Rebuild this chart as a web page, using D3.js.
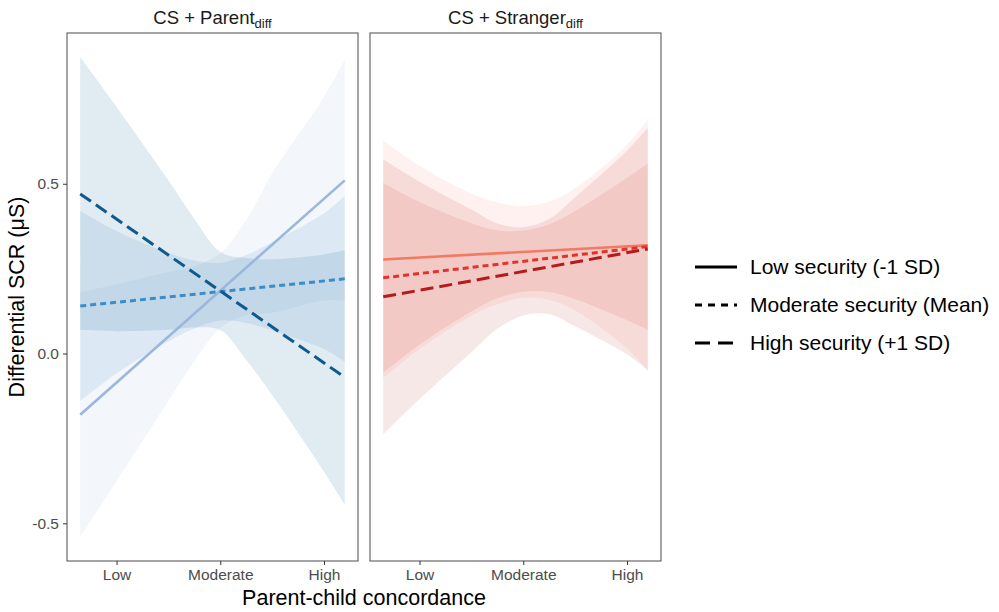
<!DOCTYPE html>
<html>
<head>
<meta charset="utf-8">
<script src="https://cdn.jsdelivr.net/npm/d3@7"></script>
<style>
  body { margin: 0; background: #fff; }
  svg { font-family: 'Liberation Sans', Arial, sans-serif; }
</style>
</head>
<body>
<script>
// x positions (concordance, SD units) where band edges were read
const xGrid = [-1.35, -1.0, -0.5, -0.25, 0, 0.25, 0.5, 1.0, 1.2];
const lineX = [-1.35, 1.2];

const xTickValues = [-1, 0, 1];
const xTickLabels = ['Low', 'Moderate', 'High'];
const yTickValues = [-0.5, 0, 0.5];
const yTickLabels = ['-0.5', '0.0', '0.5'];

const legendLabels = ['Low security (-1 SD)', 'Moderate security (Mean)', 'High security (+1 SD)'];

// CS+Parent panel
const parentLowFit = [-0.18, 0.51];
const parentLowLo = [-0.54, -0.376, -0.14, -0.023, 0.075, 0.113, 0.12, 0.156, 0.155];
const parentLowHi = [0.18, 0.204, 0.24, 0.257, 0.295, 0.393, 0.53, 0.756, 0.865];
const parentModFit = [0.14, 0.22];
const parentModLo = [-0.14, -0.059, 0.036, 0.074, 0.097, 0.09, 0.068, 0.013, -0.025];
const parentModHi = [0.42, 0.361, 0.296, 0.274, 0.267, 0.29, 0.328, 0.413, 0.465];
const parentHighFit = [0.47, -0.07];
const parentHighLo = [0.07, 0.066, 0.07, 0.077, 0.069, -0.019, -0.122, -0.348, -0.445];
const parentHighHi = [0.873, 0.726, 0.51, 0.397, 0.299, 0.281, 0.278, 0.292, 0.305];

// CS+Stranger panel
const strangerLowFit = [0.277, 0.319];
const strangerLowLo = [-0.073, 0.013, 0.111, 0.145, 0.164, 0.158, 0.127, 0.015, -0.051];
const strangerLowHi = [0.627, 0.553, 0.471, 0.445, 0.434, 0.448, 0.487, 0.615, 0.689];
const strangerModFit = [0.223, 0.315];
const strangerModLo = [-0.057, 0.026, 0.124, 0.163, 0.182, 0.181, 0.16, 0.098, 0.07];
const strangerModHi = [0.503, 0.446, 0.384, 0.363, 0.362, 0.381, 0.42, 0.518, 0.56];
const strangerHighFit = [0.167, 0.308];
const strangerHighLo = [-0.238, -0.134, 0.004, 0.073, 0.112, 0.116, 0.08, -0.003, -0.049];
const strangerHighHi = [0.572, 0.506, 0.424, 0.383, 0.372, 0.396, 0.46, 0.597, 0.665];

const parentColors = ['#9cb7dc', '#3b8dc7', '#0c5a90'];
const strangerColors = ['#f27a62', '#e2322b', '#b51a1c'];
const dashes = [null, '6,4', '13,6'];

const width = 999, height = 612;
const panelTop = 33, panelBottom = 561;

const svg = d3.select('body')
    .append('svg')
    .attr('width', width)
    .attr('height', height);

const yScale = d3.scaleLinear()
    .domain([-0.611, 0.944])
    .range([panelBottom, panelTop]);

const panels = [
    {left: 67, right: 358, title: 'CS + Parent', colors: parentColors, alpha: 0.12,
     fits: [parentLowFit, parentModFit, parentHighFit],
     lows: [parentLowLo, parentModLo, parentHighLo],
     highs: [parentLowHi, parentModHi, parentHighHi]},
    {left: 370, right: 661, title: 'CS + Stranger', colors: strangerColors, alpha: 0.1,
     fits: [strangerLowFit, strangerModFit, strangerHighFit],
     lows: [strangerLowLo, strangerModLo, strangerHighLo],
     highs: [strangerLowHi, strangerModHi, strangerHighHi]}
];

panels.forEach((p, pi) => {
    const xScale = d3.scaleLinear()
        .domain([-1.4775, 1.3275])
        .range([p.left, p.right]);

    const g = svg.append('g');

    const area = d3.area()
        .x((d, i) => xScale(xGrid[i]))
        .y0(d => yScale(d[0]))
        .y1(d => yScale(d[1]))
        .curve(d3.curveCatmullRom);

    p.lows.forEach((lo, i) => {
        g.append('path')
            .datum(lo.map((v, j) => [v, p.highs[i][j]]))
            .attr('d', area)
            .attr('fill', p.colors[i])
            .attr('fill-opacity', p.alpha);
    });

    const line = d3.line()
        .x((d, i) => xScale(lineX[i]))
        .y(d => yScale(d));

    p.fits.forEach((f, i) => {
        g.append('path')
            .datum(f)
            .attr('d', line)
            .attr('fill', 'none')
            .attr('stroke', p.colors[i])
            .attr('stroke-width', i === 0 ? 2.6 : 3)
            .attr('stroke-dasharray', dashes[i]);
    });

    // panel border
    svg.append('rect')
        .attr('x', p.left)
        .attr('y', panelTop)
        .attr('width', p.right - p.left)
        .attr('height', panelBottom - panelTop)
        .attr('fill', 'none')
        .attr('stroke', '#5a5a5a')
        .attr('stroke-width', 1.1);

    const xAxis = d3.axisBottom(xScale)
        .tickValues(xTickValues)
        .tickFormat((d, i) => xTickLabels[i])
        .tickSize(4)
        .tickPadding(4);

    const ax = svg.append('g')
        .attr('transform', 'translate(0,' + panelBottom + ')')
        .call(xAxis);
    ax.select('.domain').remove();
    ax.selectAll('line').attr('stroke', '#333');
    ax.selectAll('text')
        .attr('fill', '#4d4d4d')
        .style('font-size', '15.5px')
        .style('font-family', 'Liberation Sans, Arial, sans-serif');

    // strip title with subscript
    const t = svg.append('text')
        .attr('x', (p.left + p.right) / 2)
        .attr('y', 24)
        .attr('text-anchor', 'middle')
        .attr('fill', '#1a1a1a')
        .style('font-size', '18.5px');
    t.append('tspan').text(p.title);
    t.append('tspan')
        .attr('dy', 4)
        .style('font-size', '13px')
        .text('diff');
});

const yAxis = d3.axisLeft(yScale)
    .tickValues(yTickValues)
    .tickFormat((d, i) => yTickLabels[i])
    .tickSize(4)
    .tickPadding(4);

const ay = svg.append('g')
    .attr('transform', 'translate(67,0)')
    .call(yAxis);
ay.select('.domain').remove();
ay.selectAll('line').attr('stroke', '#333');
ay.selectAll('text')
    .attr('fill', '#4d4d4d')
    .style('font-size', '15.5px')
    .style('font-family', 'Liberation Sans, Arial, sans-serif');

svg.append('text')
    .attr('transform', 'translate(24,' + ((panelTop + panelBottom) / 2) + ') rotate(-90)')
    .attr('text-anchor', 'middle')
    .attr('fill', '#000')
    .style('font-size', '21.5px')
    .text('Differential SCR (\u03bcS)');

svg.append('text')
    .attr('x', 364)
    .attr('y', 605)
    .attr('text-anchor', 'middle')
    .attr('fill', '#000')
    .style('font-size', '21.5px')
    .text('Parent-child concordance');

// legend
const legend = svg.append('g');
legendLabels.forEach((lab, i) => {
    const y = 267 + i * 38;
    legend.append('line')
        .attr('x1', 695).attr('x2', 737)
        .attr('y1', y).attr('y2', y)
        .attr('stroke', '#000')
        .attr('stroke-width', 3)
        .attr('stroke-dasharray', i === 0 ? null : (i === 1 ? '7,6' : '15,8'));
    legend.append('text')
        .attr('x', 750)
        .attr('y', y + 7)
        .attr('fill', '#000')
        .style('font-size', '21px')
        .text(lab);
});
</script>
</body>
</html>
